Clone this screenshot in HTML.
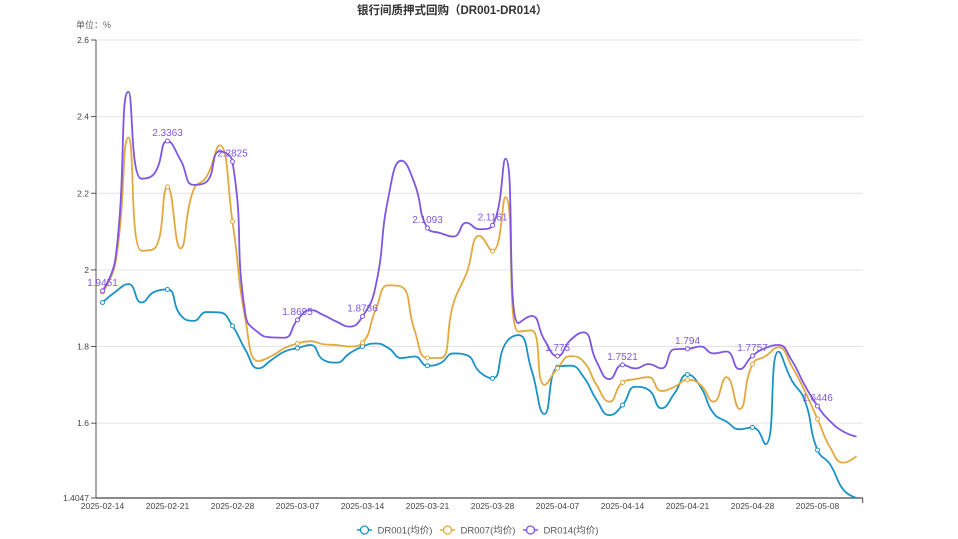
<!DOCTYPE html>
<html><head><meta charset="utf-8"><style>
html,body{margin:0;padding:0;background:#fff;}
body{width:958px;height:539px;overflow:hidden;font-family:"Liberation Sans","Noto Sans CJK SC",sans-serif;}
svg{display:block;}
</style></head><body>
<svg id="c" width="958" height="539" viewBox="0 0 958 539" xmlns="http://www.w3.org/2000/svg" font-family="Liberation Sans, Noto Sans CJK SC, sans-serif">
<text x="357" y="14" font-size="11.5" font-weight="bold" fill="#333">银行间质押式回购（DR001-DR014）</text>
<text x="76" y="28" font-size="9" fill="#666">单位：%</text>
<g id="grid"></g>
<g id="series"></g>
<g id="legend" font-size="9.5" fill="#555">
<line x1="357" y1="530" x2="372" y2="530" stroke="#1b92c6" stroke-width="1.5"/><circle cx="364.5" cy="530" r="4" fill="#fff" stroke="#1b92c6" stroke-width="1.3"/>
<text x="377.5" y="533.5">DR001(均价)</text>
<line x1="440" y1="530" x2="455" y2="530" stroke="#e3a93f" stroke-width="1.5"/><circle cx="447.5" cy="530" r="4" fill="#fff" stroke="#e3a93f" stroke-width="1.3"/>
<text x="460.5" y="533.5">DR007(均价)</text>
<line x1="523" y1="530" x2="538" y2="530" stroke="#7f55e3" stroke-width="1.5"/><circle cx="530.5" cy="530" r="4" fill="#fff" stroke="#7f55e3" stroke-width="1.3"/>
<text x="543.5" y="533.5">DR014(均价)</text>
</g>
</svg>
<script>
(function(){
var NS="http://www.w3.org/2000/svg";
function el(t,a,p,txt){var e=document.createElementNS(NS,t);for(var k in a)e.setAttribute(k,a[k]);if(txt!=null)e.textContent=txt;p.appendChild(e);return e;}
var X0=96,X1=862.7,YT=40,YB=498,VMAX=2.6,VMIN=1.4047;
function Y(v){return YT+(VMAX-v)*(YB-YT)/(VMAX-VMIN);}
function X(i){return 102.5+13*i;}
var g=document.getElementById('grid');
var ticks=[2.6,2.4,2.2,2.0,1.8,1.6];
ticks.forEach(function(v){var y=Y(v);
el('line',{x1:X0,y1:y,x2:X1,y2:y,stroke:'#e3e3e3','stroke-width':1},g);
el('line',{x1:91,y1:y,x2:X0,y2:y,stroke:'#555','stroke-width':1},g);
el('text',{x:89,y:y+3,'font-size':8.5,fill:'#444','text-anchor':'end'},g,(v===2?'2':v===2.6?'2.6':v.toFixed(1)));
});
el('line',{x1:91,y1:YB,x2:X0,y2:YB,stroke:'#555','stroke-width':1},g);
el('text',{x:89,y:YB+3,'font-size':8.5,fill:'#444','text-anchor':'end'},g,'1.4047');
el('line',{x1:X0,y1:YT,x2:X0,y2:YB,stroke:'#555','stroke-width':1},g);
el('line',{x1:X0,y1:YB,x2:X1,y2:YB,stroke:'#444','stroke-width':1.2},g);
el('line',{x1:X1,y1:YB,x2:X1,y2:YB+5,stroke:'#444','stroke-width':1},g);
var labs=['2025-02-14','2025-02-21','2025-02-28','2025-03-07','2025-03-14','2025-03-21','2025-03-28','2025-04-07','2025-04-14','2025-04-21','2025-04-28','2025-05-08'];
labs.forEach(function(l,k){el('text',{x:X(5*k),y:509,'font-size':8.5,fill:'#444','text-anchor':'middle'},g,l);});

var d1=[1.915,1.943,1.963,1.915,1.943,1.949,1.882,1.867,1.89,1.889,1.854,1.791,1.743,1.765,1.787,1.796,1.804,1.765,1.758,1.782,1.8,1.808,1.796,1.77,1.774,1.75,1.757,1.782,1.778,1.734,1.717,1.808,1.83,1.739,1.624,1.746,1.75,1.721,1.661,1.621,1.647,1.695,1.687,1.639,1.678,1.727,1.695,1.626,1.604,1.584,1.589,1.545,1.787,1.713,1.661,1.53,1.491,1.426,1.4047];
var d7=[1.942,2.02,2.345,2.05,2.056,2.217,2.056,2.209,2.243,2.325,2.126,1.87,1.762,1.775,1.796,1.808,1.814,1.806,1.804,1.8,1.81,1.895,1.96,1.956,1.843,1.77,1.77,1.913,1.991,2.089,2.049,2.19,1.839,1.842,1.7,1.743,1.775,1.761,1.7,1.656,1.706,1.715,1.72,1.684,1.695,1.713,1.7,1.656,1.72,1.637,1.754,1.775,1.798,1.75,1.685,1.611,1.535,1.497,1.514];
var d14=[1.9451,2.03,2.465,2.238,2.252,2.3363,2.287,2.222,2.23,2.309,2.2825,1.882,1.836,1.824,1.823,1.8695,1.895,1.882,1.865,1.852,1.8786,1.956,2.191,2.285,2.226,2.1093,2.096,2.087,2.123,2.106,2.1161,2.29,1.861,1.88,1.817,1.775,1.817,1.837,1.761,1.715,1.7521,1.743,1.754,1.743,1.793,1.794,1.8,1.782,1.787,1.741,1.7757,1.796,1.804,1.765,1.7,1.6446,1.604,1.578,1.565];

function smoothPath(pts,smooth){
 var n=pts.length,d='M'+pts[0][0].toFixed(2)+','+pts[0][1].toFixed(2);
 var cpx0=pts[0][0],cpy0=pts[0][1];
 for(var i=1;i<n;i++){
  var x=pts[i][0],y=pts[i][1],cpx1,cpy1,nx0,ny0;
  if(i===n-1){cpx1=x;cpy1=y;}
  else{
   var px=pts[i-1][0],py=pts[i-1][1],nxp=pts[i+1][0],nyp=pts[i+1][1];
   var vx=nxp-px,vy=nyp-py;
   var dx0=x-px,dy0=y-py,dx1=nxp-x,dy1=nyp-y;
   var lp=Math.sqrt(dx0*dx0+dy0*dy0),ln=Math.sqrt(dx1*dx1+dy1*dy1);
   var r=ln/(ln+lp);
   nx0=x+vx*smooth*r;ny0=y+vy*smooth*r;
   nx0=Math.min(nx0,Math.max(nxp,x));ny0=Math.min(ny0,Math.max(nyp,y));
   nx0=Math.max(nx0,Math.min(nxp,x));ny0=Math.max(ny0,Math.min(nyp,y));
   vx=nx0-x;vy=ny0-y;
   cpx1=x-vx*lp/ln;cpy1=y-vy*lp/ln;
   cpx1=Math.min(cpx1,Math.max(px,x));cpy1=Math.min(cpy1,Math.max(py,y));
   cpx1=Math.max(cpx1,Math.min(px,x));cpy1=Math.max(cpy1,Math.min(py,y));
   vx=x-cpx1;vy=y-cpy1;
   nx0=x+vx*ln/lp;ny0=y+vy*ln/lp;
  }
  d+='C'+cpx0.toFixed(2)+','+cpy0.toFixed(2)+' '+cpx1.toFixed(2)+','+cpy1.toFixed(2)+' '+x.toFixed(2)+','+y.toFixed(2);
  cpx0=nx0;cpy0=ny0;
 }
 return d;
}
var s=document.getElementById('series');
var series=[[d1,'#1b92c6'],[d7,'#e3a93f'],[d14,'#7f55e3']];
series.forEach(function(sd){
 var pts=sd[0].map(function(v,i){return [X(i),Y(v)];});
 el('path',{d:smoothPath(pts,0.5),fill:'none',stroke:sd[1],'stroke-width':1.8,'stroke-linejoin':'round'},s);
});
series.forEach(function(sd){
 sd[0].forEach(function(v,i){if(i%5===0){el('circle',{cx:X(i),cy:Y(v),r:2,fill:'#fff',stroke:sd[1],'stroke-width':1},s);}});
});
d14.forEach(function(v,i){if(i%5===0){
 var t=(Math.round(v*10000)/10000).toString();
 el('text',{x:X(i),y:Y(v)-5,'font-size':10,fill:'#7f55e3','text-anchor':'middle'},s,t);
}});
})();
</script>
</body></html>
